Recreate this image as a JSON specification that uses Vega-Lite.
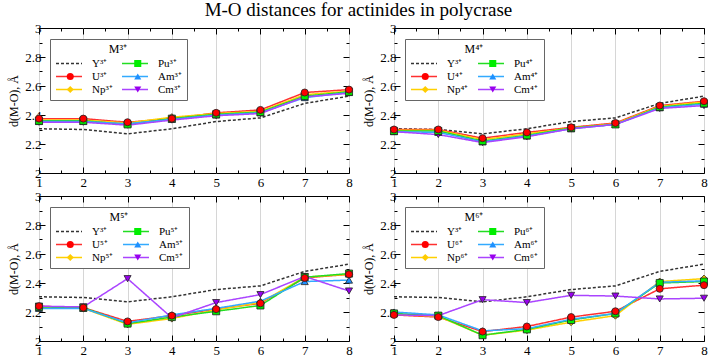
{
  "$schema": "https://vega.github.io/schema/vega-lite/v6.json",
  "padding": {"left": 7, "top": 0, "right": 2, "bottom": 2},
  "title": {"text": "M-O distances for actinides in polycrase", "fontSize": 19, "font": "Liberation Serif", "fontWeight": "normal", "anchor": "middle", "offset": 2, "color": "black"},
  "datasets": {
    "d": [
      {"p":"Y","s":"Y","x":1,"d":2.305},{"p":"Y","s":"Y","x":2,"d":2.30},{"p":"Y","s":"Y","x":3,"d":2.27},{"p":"Y","s":"Y","x":4,"d":2.305},{"p":"Y","s":"Y","x":5,"d":2.355},{"p":"Y","s":"Y","x":6,"d":2.38},{"p":"Y","s":"Y","x":7,"d":2.48},{"p":"Y","s":"Y","x":8,"d":2.53},

      {"p":"3","s":"U","x":1,"d":2.375},{"p":"3","s":"U","x":2,"d":2.375},{"p":"3","s":"U","x":3,"d":2.35},{"p":"3","s":"U","x":4,"d":2.375},{"p":"3","s":"U","x":5,"d":2.415},{"p":"3","s":"U","x":6,"d":2.435},{"p":"3","s":"U","x":7,"d":2.555},{"p":"3","s":"U","x":8,"d":2.575},
      {"p":"3","s":"Np","x":1,"d":2.365},{"p":"3","s":"Np","x":2,"d":2.365},{"p":"3","s":"Np","x":3,"d":2.345},{"p":"3","s":"Np","x":4,"d":2.385},{"p":"3","s":"Np","x":5,"d":2.41},{"p":"3","s":"Np","x":6,"d":2.425},{"p":"3","s":"Np","x":7,"d":2.54},{"p":"3","s":"Np","x":8,"d":2.565},
      {"p":"3","s":"Pu","x":1,"d":2.36},{"p":"3","s":"Pu","x":2,"d":2.36},{"p":"3","s":"Pu","x":3,"d":2.335},{"p":"3","s":"Pu","x":4,"d":2.375},{"p":"3","s":"Pu","x":5,"d":2.405},{"p":"3","s":"Pu","x":6,"d":2.42},{"p":"3","s":"Pu","x":7,"d":2.53},{"p":"3","s":"Pu","x":8,"d":2.56},
      {"p":"3","s":"Am","x":1,"d":2.355},{"p":"3","s":"Am","x":2,"d":2.355},{"p":"3","s":"Am","x":3,"d":2.34},{"p":"3","s":"Am","x":4,"d":2.37},{"p":"3","s":"Am","x":5,"d":2.40},{"p":"3","s":"Am","x":6,"d":2.415},{"p":"3","s":"Am","x":7,"d":2.52},{"p":"3","s":"Am","x":8,"d":2.555},
      {"p":"3","s":"Cm","x":1,"d":2.35},{"p":"3","s":"Cm","x":2,"d":2.35},{"p":"3","s":"Cm","x":3,"d":2.33},{"p":"3","s":"Cm","x":4,"d":2.365},{"p":"3","s":"Cm","x":5,"d":2.395},{"p":"3","s":"Cm","x":6,"d":2.41},{"p":"3","s":"Cm","x":7,"d":2.525},{"p":"3","s":"Cm","x":8,"d":2.55},

      {"p":"4","s":"U","x":1,"d":2.30},{"p":"4","s":"U","x":2,"d":2.30},{"p":"4","s":"U","x":3,"d":2.24},{"p":"4","s":"U","x":4,"d":2.28},{"p":"4","s":"U","x":5,"d":2.315},{"p":"4","s":"U","x":6,"d":2.345},{"p":"4","s":"U","x":7,"d":2.465},{"p":"4","s":"U","x":8,"d":2.495},
      {"p":"4","s":"Np","x":1,"d":2.295},{"p":"4","s":"Np","x":2,"d":2.295},{"p":"4","s":"Np","x":3,"d":2.23},{"p":"4","s":"Np","x":4,"d":2.27},{"p":"4","s":"Np","x":5,"d":2.31},{"p":"4","s":"Np","x":6,"d":2.34},{"p":"4","s":"Np","x":7,"d":2.46},{"p":"4","s":"Np","x":8,"d":2.49},
      {"p":"4","s":"Pu","x":1,"d":2.29},{"p":"4","s":"Pu","x":2,"d":2.29},{"p":"4","s":"Pu","x":3,"d":2.22},{"p":"4","s":"Pu","x":4,"d":2.26},{"p":"4","s":"Pu","x":5,"d":2.31},{"p":"4","s":"Pu","x":6,"d":2.335},{"p":"4","s":"Pu","x":7,"d":2.455},{"p":"4","s":"Pu","x":8,"d":2.48},
      {"p":"4","s":"Am","x":1,"d":2.285},{"p":"4","s":"Am","x":2,"d":2.28},{"p":"4","s":"Am","x":3,"d":2.215},{"p":"4","s":"Am","x":4,"d":2.255},{"p":"4","s":"Am","x":5,"d":2.305},{"p":"4","s":"Am","x":6,"d":2.335},{"p":"4","s":"Am","x":7,"d":2.45},{"p":"4","s":"Am","x":8,"d":2.475},
      {"p":"4","s":"Cm","x":1,"d":2.285},{"p":"4","s":"Cm","x":2,"d":2.265},{"p":"4","s":"Cm","x":3,"d":2.21},{"p":"4","s":"Cm","x":4,"d":2.25},{"p":"4","s":"Cm","x":5,"d":2.305},{"p":"4","s":"Cm","x":6,"d":2.335},{"p":"4","s":"Cm","x":7,"d":2.445},{"p":"4","s":"Cm","x":8,"d":2.465},

      {"p":"5","s":"U","x":1,"d":2.24},{"p":"5","s":"U","x":2,"d":2.23},{"p":"5","s":"U","x":3,"d":2.135},{"p":"5","s":"U","x":4,"d":2.175},{"p":"5","s":"U","x":5,"d":2.22},{"p":"5","s":"U","x":6,"d":2.26},{"p":"5","s":"U","x":7,"d":2.435},{"p":"5","s":"U","x":8,"d":2.46},
      {"p":"5","s":"Np","x":1,"d":2.23},{"p":"5","s":"Np","x":2,"d":2.225},{"p":"5","s":"Np","x":3,"d":2.115},{"p":"5","s":"Np","x":4,"d":2.155},{"p":"5","s":"Np","x":5,"d":2.215},{"p":"5","s":"Np","x":6,"d":2.265},{"p":"5","s":"Np","x":7,"d":2.44},{"p":"5","s":"Np","x":8,"d":2.46},
      {"p":"5","s":"Pu","x":1,"d":2.235},{"p":"5","s":"Pu","x":2,"d":2.23},{"p":"5","s":"Pu","x":3,"d":2.12},{"p":"5","s":"Pu","x":4,"d":2.165},{"p":"5","s":"Pu","x":5,"d":2.205},{"p":"5","s":"Pu","x":6,"d":2.245},{"p":"5","s":"Pu","x":7,"d":2.44},{"p":"5","s":"Pu","x":8,"d":2.465},
      {"p":"5","s":"Am","x":1,"d":2.225},{"p":"5","s":"Am","x":2,"d":2.225},{"p":"5","s":"Am","x":3,"d":2.125},{"p":"5","s":"Am","x":4,"d":2.18},{"p":"5","s":"Am","x":5,"d":2.225},{"p":"5","s":"Am","x":6,"d":2.275},{"p":"5","s":"Am","x":7,"d":2.41},{"p":"5","s":"Am","x":8,"d":2.42},
      {"p":"5","s":"Cm","x":1,"d":2.24},{"p":"5","s":"Cm","x":2,"d":2.235},{"p":"5","s":"Cm","x":3,"d":2.43},{"p":"5","s":"Cm","x":4,"d":2.16},{"p":"5","s":"Cm","x":5,"d":2.265},{"p":"5","s":"Cm","x":6,"d":2.32},{"p":"5","s":"Cm","x":7,"d":2.445},{"p":"5","s":"Cm","x":8,"d":2.345},

      {"p":"6","s":"U","x":1,"d":2.18},{"p":"6","s":"U","x":2,"d":2.165},{"p":"6","s":"U","x":3,"d":2.065},{"p":"6","s":"U","x":4,"d":2.10},{"p":"6","s":"U","x":5,"d":2.165},{"p":"6","s":"U","x":6,"d":2.205},{"p":"6","s":"U","x":7,"d":2.36},{"p":"6","s":"U","x":8,"d":2.385},
      {"p":"6","s":"Np","x":1,"d":2.185},{"p":"6","s":"Np","x":2,"d":2.17},{"p":"6","s":"Np","x":3,"d":2.04},{"p":"6","s":"Np","x":4,"d":2.075},{"p":"6","s":"Np","x":5,"d":2.13},{"p":"6","s":"Np","x":6,"d":2.175},{"p":"6","s":"Np","x":7,"d":2.41},{"p":"6","s":"Np","x":8,"d":2.43},
      {"p":"6","s":"Pu","x":1,"d":2.19},{"p":"6","s":"Pu","x":2,"d":2.175},{"p":"6","s":"Pu","x":3,"d":2.04},{"p":"6","s":"Pu","x":4,"d":2.08},{"p":"6","s":"Pu","x":5,"d":2.145},{"p":"6","s":"Pu","x":6,"d":2.19},{"p":"6","s":"Pu","x":7,"d":2.40},{"p":"6","s":"Pu","x":8,"d":2.41},
      {"p":"6","s":"Am","x":1,"d":2.20},{"p":"6","s":"Am","x":2,"d":2.18},{"p":"6","s":"Am","x":3,"d":2.07},{"p":"6","s":"Am","x":4,"d":2.085},{"p":"6","s":"Am","x":5,"d":2.15},{"p":"6","s":"Am","x":6,"d":2.19},{"p":"6","s":"Am","x":7,"d":2.405},{"p":"6","s":"Am","x":8,"d":2.415},
      {"p":"6","s":"Cm","x":1,"d":2.18},{"p":"6","s":"Cm","x":2,"d":2.175},{"p":"6","s":"Cm","x":3,"d":2.285},{"p":"6","s":"Cm","x":4,"d":2.265},{"p":"6","s":"Cm","x":5,"d":2.315},{"p":"6","s":"Cm","x":6,"d":2.31},{"p":"6","s":"Cm","x":7,"d":2.29},{"p":"6","s":"Cm","x":8,"d":2.295}
    ]
  },
  "data": {"name": "d"},
  "columns": 2,
  "spacing": {"row": 23, "column": 45},
  "bounds": "flush",
  "resolve": {"scale": {"color": "independent", "strokeDash": "independent", "shape": "independent", "fill": "independent"}, "legend": {"color": "independent", "strokeDash": "independent", "shape": "independent", "fill": "independent"}},
  "concat": [
    {
      "width": 310, "height": 145,
      "transform": [{"filter": "datum.p === '3' || datum.p === 'Y'"}],
      "layer": [
        {"mark": {"type": "line", "strokeWidth": 1.5},
         "encoding": {
           "x": {"field": "x", "type": "quantitative", "scale": {"domain": [1, 8], "nice": false}, "axis": {"orient": "bottom", "values": [1,1.5,2,2.5,3,3.5,4,4.5,5,5.5,6,6.5,7,7.5,8], "labelExpr": "datum.value % 1 === 0 ? format(datum.value, 'd') : ''", "tickSize": {"condition": {"test": "datum.value % 1 === 0", "value": -6}, "value": -3}, "grid": true, "gridColor": "#d6d6d6", "gridOpacity": {"condition": {"test": "datum.value % 1 === 0", "value": 1}, "value": 0}, "title": null, "labelPadding": 9, "labelOverlap": false, "labelFlush": false}},
           "y": {"field": "d", "type": "quantitative", "scale": {"domain": [2, 3], "nice": false, "zero": false}, "axis": {"orient": "left", "values": [2,2.1,2.2,2.3,2.4,2.5,2.6,2.7,2.8,2.9,3], "labelExpr": "abs(datum.value*5 - round(datum.value*5)) < 0.01 ? format(datum.value, '~g') : ''", "tickSize": {"condition": {"test": "abs(datum.value*5 - round(datum.value*5)) < 0.01", "value": -6}, "value": -3}, "grid": false, "title": "d(M-O), Å", "titlePadding": 4, "labelPadding": 4, "labelOverlap": false, "labelFlush": false}},
           "color": {"field": "s", "type": "nominal", "scale": {"domain": ["Y","U","Np","Pu","Am","Cm"], "range": ["#333333","#ff3030","#ffd000","#22dd22","#33aaff","#aa44ff"]}, "legend": {"orient": "top-left", "offset": 11, "title": "M³⁺", "labelExpr": "datum.label === 'Y' ? 'Y³⁺' : datum.label + '³⁺'", "symbolType": "stroke", "symbolSize": 676, "symbolStrokeWidth": 1.5, "clipHeight": 11, "fillColor": "white", "strokeColor": "#666666", "labelOffset": 9, "direction": "vertical"}},
           "strokeDash": {"field": "s", "type": "nominal", "scale": {"domain": ["Y","U","Np","Pu","Am","Cm"], "range": [[3,2],[1,0],[1,0],[1,0],[1,0],[1,0]]}, "legend": {"orient": "top-left", "offset": 11, "title": "M³⁺", "labelExpr": "datum.label === 'Y' ? 'Y³⁺' : datum.label + '³⁺'", "symbolType": "stroke", "symbolSize": 676, "symbolStrokeWidth": 1.5, "clipHeight": 11, "fillColor": "white", "strokeColor": "#666666", "labelOffset": 9, "direction": "vertical"}}
         }},
        {"mark": {"type": "point", "filled": true, "size": 50, "stroke": "#222222", "strokeWidth": 0.8, "opacity": 1},
         "encoding": {
           "x": {"field": "x", "type": "quantitative", "scale": {"domain": [1, 8], "nice": false}, "axis": {"orient": "top", "values": [1,1.5,2,2.5,3,3.5,4,4.5,5,5.5,6,6.5,7,7.5,8], "labels": false, "tickSize": {"condition": {"test": "datum.value % 1 === 0", "value": -6}, "value": -3}, "grid": false, "title": null}},
           "y": {"field": "d", "type": "quantitative", "scale": {"domain": [2, 3], "nice": false, "zero": false}, "axis": {"orient": "right", "values": [2,2.1,2.2,2.3,2.4,2.5,2.6,2.7,2.8,2.9,3], "labels": false, "tickSize": {"condition": {"test": "abs(datum.value*5 - round(datum.value*5)) < 0.01", "value": -6}, "value": -3}, "grid": false, "title": null}},
           "order": {"field": "s", "sort": "ascending"},
           "shape": {"field": "s", "type": "nominal", "sort": null, "scale": {"range": ["M0,0","circle","diamond","square","triangle-up","triangle-down"]}, "legend": {"orient": "none", "legendX": 20.75, "legendY": 25, "title": null, "labelExpr": "''", "symbolSize": 50, "symbolStrokeWidth": 0.8, "symbolStrokeColor": "#222222", "clipHeight": 11, "labelOffset": 0, "columnPadding": 56.5, "direction": "vertical"}},
           "fill": {"field": "s", "type": "nominal", "sort": null, "scale": {"range": ["transparent","#ff0000","#ffcc00","#00ee00","#1e90ff","#9900ee"]}, "legend": {"orient": "none", "legendX": 20.75, "legendY": 25, "title": null, "labelExpr": "''", "symbolSize": 50, "symbolStrokeWidth": 0.8, "symbolStrokeColor": "#222222", "clipHeight": 11, "labelOffset": 0, "columnPadding": 56.5, "direction": "vertical"}}
         }}
      ],
      "resolve": {"axis": {"x": "independent", "y": "independent"}}
    },
    {
      "width": 310, "height": 145,
      "transform": [{"filter": "datum.p === '4' || datum.p === 'Y'"}],
      "layer": [
        {"mark": {"type": "line", "strokeWidth": 1.5},
         "encoding": {
           "x": {"field": "x", "type": "quantitative", "scale": {"domain": [1, 8], "nice": false}, "axis": {"orient": "bottom", "values": [1,1.5,2,2.5,3,3.5,4,4.5,5,5.5,6,6.5,7,7.5,8], "labelExpr": "datum.value % 1 === 0 ? format(datum.value, 'd') : ''", "tickSize": {"condition": {"test": "datum.value % 1 === 0", "value": -6}, "value": -3}, "grid": true, "gridColor": "#d6d6d6", "gridOpacity": {"condition": {"test": "datum.value % 1 === 0", "value": 1}, "value": 0}, "title": null, "labelPadding": 9, "labelOverlap": false, "labelFlush": false}},
           "y": {"field": "d", "type": "quantitative", "scale": {"domain": [2, 3], "nice": false, "zero": false}, "axis": {"orient": "left", "values": [2,2.1,2.2,2.3,2.4,2.5,2.6,2.7,2.8,2.9,3], "labelExpr": "abs(datum.value*5 - round(datum.value*5)) < 0.01 ? format(datum.value, '~g') : ''", "tickSize": {"condition": {"test": "abs(datum.value*5 - round(datum.value*5)) < 0.01", "value": -6}, "value": -3}, "grid": false, "title": "d(M-O), Å", "titlePadding": 4, "labelPadding": 4, "labelOverlap": false, "labelFlush": false}},
           "color": {"field": "s", "type": "nominal", "scale": {"domain": ["Y","U","Np","Pu","Am","Cm"], "range": ["#333333","#ff3030","#ffd000","#22dd22","#33aaff","#aa44ff"]}, "legend": {"orient": "top-left", "offset": 11, "title": "M⁴⁺", "labelExpr": "datum.label === 'Y' ? 'Y³⁺' : datum.label + '⁴⁺'", "symbolType": "stroke", "symbolSize": 676, "symbolStrokeWidth": 1.5, "clipHeight": 11, "fillColor": "white", "strokeColor": "#666666", "labelOffset": 9, "direction": "vertical"}},
           "strokeDash": {"field": "s", "type": "nominal", "scale": {"domain": ["Y","U","Np","Pu","Am","Cm"], "range": [[3,2],[1,0],[1,0],[1,0],[1,0],[1,0]]}, "legend": {"orient": "top-left", "offset": 11, "title": "M⁴⁺", "labelExpr": "datum.label === 'Y' ? 'Y³⁺' : datum.label + '⁴⁺'", "symbolType": "stroke", "symbolSize": 676, "symbolStrokeWidth": 1.5, "clipHeight": 11, "fillColor": "white", "strokeColor": "#666666", "labelOffset": 9, "direction": "vertical"}}
         }},
        {"mark": {"type": "point", "filled": true, "size": 50, "stroke": "#222222", "strokeWidth": 0.8, "opacity": 1},
         "encoding": {
           "x": {"field": "x", "type": "quantitative", "scale": {"domain": [1, 8], "nice": false}, "axis": {"orient": "top", "values": [1,1.5,2,2.5,3,3.5,4,4.5,5,5.5,6,6.5,7,7.5,8], "labels": false, "tickSize": {"condition": {"test": "datum.value % 1 === 0", "value": -6}, "value": -3}, "grid": false, "title": null}},
           "y": {"field": "d", "type": "quantitative", "scale": {"domain": [2, 3], "nice": false, "zero": false}, "axis": {"orient": "right", "values": [2,2.1,2.2,2.3,2.4,2.5,2.6,2.7,2.8,2.9,3], "labels": false, "tickSize": {"condition": {"test": "abs(datum.value*5 - round(datum.value*5)) < 0.01", "value": -6}, "value": -3}, "grid": false, "title": null}},
           "order": {"field": "s", "sort": "ascending"},
           "shape": {"field": "s", "type": "nominal", "sort": null, "scale": {"range": ["M0,0","circle","diamond","square","triangle-up","triangle-down"]}, "legend": {"orient": "none", "legendX": 20.75, "legendY": 25, "title": null, "labelExpr": "''", "symbolSize": 50, "symbolStrokeWidth": 0.8, "symbolStrokeColor": "#222222", "clipHeight": 11, "labelOffset": 0, "columnPadding": 56.5, "direction": "vertical"}},
           "fill": {"field": "s", "type": "nominal", "sort": null, "scale": {"range": ["transparent","#ff0000","#ffcc00","#00ee00","#1e90ff","#9900ee"]}, "legend": {"orient": "none", "legendX": 20.75, "legendY": 25, "title": null, "labelExpr": "''", "symbolSize": 50, "symbolStrokeWidth": 0.8, "symbolStrokeColor": "#222222", "clipHeight": 11, "labelOffset": 0, "columnPadding": 56.5, "direction": "vertical"}}
         }}
      ],
      "resolve": {"axis": {"x": "independent", "y": "independent"}}
    },
    {
      "width": 310, "height": 145,
      "transform": [{"filter": "datum.p === '5' || datum.p === 'Y'"}],
      "layer": [
        {"mark": {"type": "line", "strokeWidth": 1.5},
         "encoding": {
           "x": {"field": "x", "type": "quantitative", "scale": {"domain": [1, 8], "nice": false}, "axis": {"orient": "bottom", "values": [1,1.5,2,2.5,3,3.5,4,4.5,5,5.5,6,6.5,7,7.5,8], "labelExpr": "datum.value % 1 === 0 ? format(datum.value, 'd') : ''", "tickSize": {"condition": {"test": "datum.value % 1 === 0", "value": -6}, "value": -3}, "grid": true, "gridColor": "#d6d6d6", "gridOpacity": {"condition": {"test": "datum.value % 1 === 0", "value": 1}, "value": 0}, "title": null, "labelPadding": 9, "labelOverlap": false, "labelFlush": false}},
           "y": {"field": "d", "type": "quantitative", "scale": {"domain": [2, 3], "nice": false, "zero": false}, "axis": {"orient": "left", "values": [2,2.1,2.2,2.3,2.4,2.5,2.6,2.7,2.8,2.9,3], "labelExpr": "abs(datum.value*5 - round(datum.value*5)) < 0.01 ? format(datum.value, '~g') : ''", "tickSize": {"condition": {"test": "abs(datum.value*5 - round(datum.value*5)) < 0.01", "value": -6}, "value": -3}, "grid": false, "title": "d(M-O), Å", "titlePadding": 4, "labelPadding": 4, "labelOverlap": false, "labelFlush": false}},
           "color": {"field": "s", "type": "nominal", "scale": {"domain": ["Y","U","Np","Pu","Am","Cm"], "range": ["#333333","#ff3030","#ffd000","#22dd22","#33aaff","#aa44ff"]}, "legend": {"orient": "top-left", "offset": 11, "title": "M⁵⁺", "labelExpr": "datum.label === 'Y' ? 'Y³⁺' : datum.label + '⁵⁺'", "symbolType": "stroke", "symbolSize": 676, "symbolStrokeWidth": 1.5, "clipHeight": 11, "fillColor": "white", "strokeColor": "#666666", "labelOffset": 9, "direction": "vertical"}},
           "strokeDash": {"field": "s", "type": "nominal", "scale": {"domain": ["Y","U","Np","Pu","Am","Cm"], "range": [[3,2],[1,0],[1,0],[1,0],[1,0],[1,0]]}, "legend": {"orient": "top-left", "offset": 11, "title": "M⁵⁺", "labelExpr": "datum.label === 'Y' ? 'Y³⁺' : datum.label + '⁵⁺'", "symbolType": "stroke", "symbolSize": 676, "symbolStrokeWidth": 1.5, "clipHeight": 11, "fillColor": "white", "strokeColor": "#666666", "labelOffset": 9, "direction": "vertical"}}
         }},
        {"mark": {"type": "point", "filled": true, "size": 50, "stroke": "#222222", "strokeWidth": 0.8, "opacity": 1},
         "encoding": {
           "x": {"field": "x", "type": "quantitative", "scale": {"domain": [1, 8], "nice": false}, "axis": {"orient": "top", "values": [1,1.5,2,2.5,3,3.5,4,4.5,5,5.5,6,6.5,7,7.5,8], "labels": false, "tickSize": {"condition": {"test": "datum.value % 1 === 0", "value": -6}, "value": -3}, "grid": false, "title": null}},
           "y": {"field": "d", "type": "quantitative", "scale": {"domain": [2, 3], "nice": false, "zero": false}, "axis": {"orient": "right", "values": [2,2.1,2.2,2.3,2.4,2.5,2.6,2.7,2.8,2.9,3], "labels": false, "tickSize": {"condition": {"test": "abs(datum.value*5 - round(datum.value*5)) < 0.01", "value": -6}, "value": -3}, "grid": false, "title": null}},
           "order": {"field": "s", "sort": "ascending"},
           "shape": {"field": "s", "type": "nominal", "sort": null, "scale": {"range": ["M0,0","circle","diamond","square","triangle-up","triangle-down"]}, "legend": {"orient": "none", "legendX": 20.75, "legendY": 25, "title": null, "labelExpr": "''", "symbolSize": 50, "symbolStrokeWidth": 0.8, "symbolStrokeColor": "#222222", "clipHeight": 11, "labelOffset": 0, "columnPadding": 56.5, "direction": "vertical"}},
           "fill": {"field": "s", "type": "nominal", "sort": null, "scale": {"range": ["transparent","#ff0000","#ffcc00","#00ee00","#1e90ff","#9900ee"]}, "legend": {"orient": "none", "legendX": 20.75, "legendY": 25, "title": null, "labelExpr": "''", "symbolSize": 50, "symbolStrokeWidth": 0.8, "symbolStrokeColor": "#222222", "clipHeight": 11, "labelOffset": 0, "columnPadding": 56.5, "direction": "vertical"}}
         }}
      ],
      "resolve": {"axis": {"x": "independent", "y": "independent"}}
    },
    {
      "width": 310, "height": 145,
      "transform": [{"filter": "datum.p === '6' || datum.p === 'Y'"}],
      "layer": [
        {"mark": {"type": "line", "strokeWidth": 1.5},
         "encoding": {
           "x": {"field": "x", "type": "quantitative", "scale": {"domain": [1, 8], "nice": false}, "axis": {"orient": "bottom", "values": [1,1.5,2,2.5,3,3.5,4,4.5,5,5.5,6,6.5,7,7.5,8], "labelExpr": "datum.value % 1 === 0 ? format(datum.value, 'd') : ''", "tickSize": {"condition": {"test": "datum.value % 1 === 0", "value": -6}, "value": -3}, "grid": true, "gridColor": "#d6d6d6", "gridOpacity": {"condition": {"test": "datum.value % 1 === 0", "value": 1}, "value": 0}, "title": null, "labelPadding": 9, "labelOverlap": false, "labelFlush": false}},
           "y": {"field": "d", "type": "quantitative", "scale": {"domain": [2, 3], "nice": false, "zero": false}, "axis": {"orient": "left", "values": [2,2.1,2.2,2.3,2.4,2.5,2.6,2.7,2.8,2.9,3], "labelExpr": "abs(datum.value*5 - round(datum.value*5)) < 0.01 ? format(datum.value, '~g') : ''", "tickSize": {"condition": {"test": "abs(datum.value*5 - round(datum.value*5)) < 0.01", "value": -6}, "value": -3}, "grid": false, "title": "d(M-O), Å", "titlePadding": 4, "labelPadding": 4, "labelOverlap": false, "labelFlush": false}},
           "color": {"field": "s", "type": "nominal", "scale": {"domain": ["Y","U","Np","Pu","Am","Cm"], "range": ["#333333","#ff3030","#ffd000","#22dd22","#33aaff","#aa44ff"]}, "legend": {"orient": "top-left", "offset": 11, "title": "M⁶⁺", "labelExpr": "datum.label === 'Y' ? 'Y³⁺' : datum.label + '⁶⁺'", "symbolType": "stroke", "symbolSize": 676, "symbolStrokeWidth": 1.5, "clipHeight": 11, "fillColor": "white", "strokeColor": "#666666", "labelOffset": 9, "direction": "vertical"}},
           "strokeDash": {"field": "s", "type": "nominal", "scale": {"domain": ["Y","U","Np","Pu","Am","Cm"], "range": [[3,2],[1,0],[1,0],[1,0],[1,0],[1,0]]}, "legend": {"orient": "top-left", "offset": 11, "title": "M⁶⁺", "labelExpr": "datum.label === 'Y' ? 'Y³⁺' : datum.label + '⁶⁺'", "symbolType": "stroke", "symbolSize": 676, "symbolStrokeWidth": 1.5, "clipHeight": 11, "fillColor": "white", "strokeColor": "#666666", "labelOffset": 9, "direction": "vertical"}}
         }},
        {"mark": {"type": "point", "filled": true, "size": 50, "stroke": "#222222", "strokeWidth": 0.8, "opacity": 1},
         "encoding": {
           "x": {"field": "x", "type": "quantitative", "scale": {"domain": [1, 8], "nice": false}, "axis": {"orient": "top", "values": [1,1.5,2,2.5,3,3.5,4,4.5,5,5.5,6,6.5,7,7.5,8], "labels": false, "tickSize": {"condition": {"test": "datum.value % 1 === 0", "value": -6}, "value": -3}, "grid": false, "title": null}},
           "y": {"field": "d", "type": "quantitative", "scale": {"domain": [2, 3], "nice": false, "zero": false}, "axis": {"orient": "right", "values": [2,2.1,2.2,2.3,2.4,2.5,2.6,2.7,2.8,2.9,3], "labels": false, "tickSize": {"condition": {"test": "abs(datum.value*5 - round(datum.value*5)) < 0.01", "value": -6}, "value": -3}, "grid": false, "title": null}},
           "order": {"field": "s", "sort": "ascending"},
           "shape": {"field": "s", "type": "nominal", "sort": null, "scale": {"range": ["M0,0","circle","diamond","square","triangle-up","triangle-down"]}, "legend": {"orient": "none", "legendX": 20.75, "legendY": 25, "title": null, "labelExpr": "''", "symbolSize": 50, "symbolStrokeWidth": 0.8, "symbolStrokeColor": "#222222", "clipHeight": 11, "labelOffset": 0, "columnPadding": 56.5, "direction": "vertical"}},
           "fill": {"field": "s", "type": "nominal", "sort": null, "scale": {"range": ["transparent","#ff0000","#ffcc00","#00ee00","#1e90ff","#9900ee"]}, "legend": {"orient": "none", "legendX": 20.75, "legendY": 25, "title": null, "labelExpr": "''", "symbolSize": 50, "symbolStrokeWidth": 0.8, "symbolStrokeColor": "#222222", "clipHeight": 11, "labelOffset": 0, "columnPadding": 56.5, "direction": "vertical"}}
         }}
      ],
      "resolve": {"axis": {"x": "independent", "y": "independent"}}
    }
  ],
  "config": {
    "font": "Liberation Serif",
    "view": {"stroke": "black", "strokeWidth": 1},
    "axis": {"labelFont": "Liberation Serif", "labelFontSize": 13, "labelColor": "black", "tickColor": "black", "tickWidth": 1, "domain": false, "titleFont": "Liberation Serif", "titleFontWeight": "normal", "titleFontSize": 12, "titleColor": "black"},
    "legend": {"labelFont": "Liberation Serif", "labelFontSize": 11, "labelColor": "black", "titleFont": "Liberation Serif", "titleFontSize": 12, "titleFontWeight": "normal", "titleColor": "black", "titleAnchor": "middle", "titlePadding": 2, "columns": 2, "padding": 5, "columnPadding": 8, "rowPadding": 1}
  }
}
